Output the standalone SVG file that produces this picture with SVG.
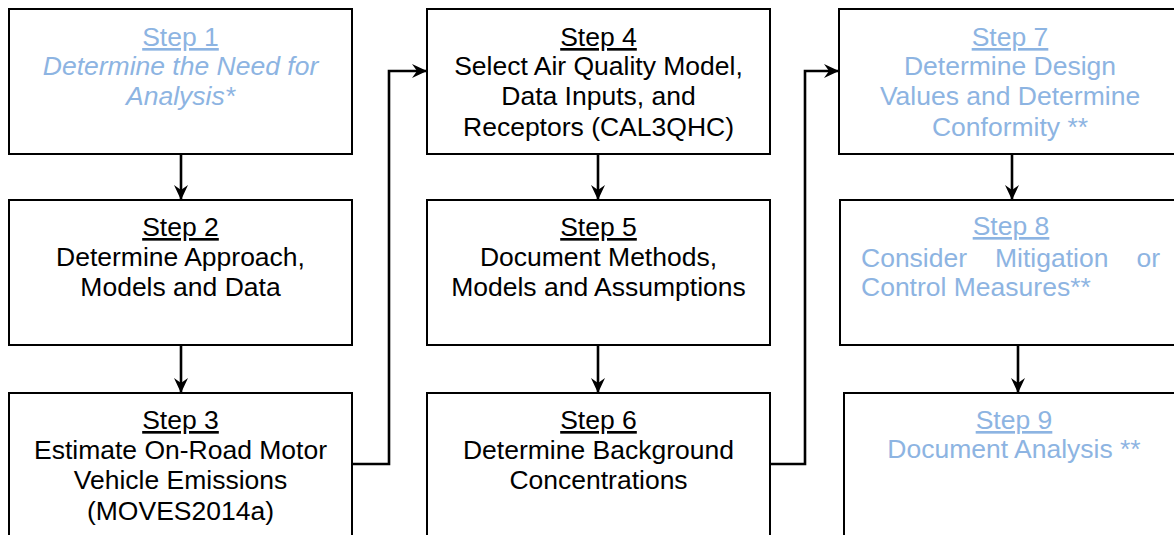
<svg xmlns="http://www.w3.org/2000/svg" width="1174" height="535" viewBox="0 0 1174 535">
<style>
.box{fill:#fff;stroke:#000;stroke-width:2}
text{font-family:"Liberation Sans",Arial,sans-serif;font-size:26.5px;text-anchor:middle}
.b{fill:#000}
.l{fill:#8db4e2}
.u{text-decoration:underline}
.i{font-style:italic}
.c{fill:none;stroke:#000;stroke-width:2.6}
</style>
<defs>
<marker id="ah" markerWidth="16" markerHeight="16" refX="15" refY="7" orient="auto" markerUnits="userSpaceOnUse" viewBox="0 0 16 14">
<path d="M0,0 L15,7 L0,14 L5,7 Z" fill="#000"/>
</marker>
</defs>
<rect width="1174" height="535" fill="#fff"/>
<g id="connectors">
<line class="c" x1="181" y1="154" x2="181" y2="200" marker-end="url(#ah)"/>
<line class="c" x1="181" y1="345" x2="181" y2="393" marker-end="url(#ah)"/>
<line class="c" x1="598" y1="154" x2="598" y2="200" marker-end="url(#ah)"/>
<line class="c" x1="598" y1="345" x2="598" y2="393" marker-end="url(#ah)"/>
<line class="c" x1="1012" y1="154" x2="1012" y2="200" marker-end="url(#ah)"/>
<line class="c" x1="1018" y1="345" x2="1018" y2="393" marker-end="url(#ah)"/>
<polyline class="c" points="352,464 389,464 389,71 427,71" marker-end="url(#ah)"/>
<polyline class="c" points="770,464 805,464 805,71 839,71" marker-end="url(#ah)"/>
</g>
<g id="step1">
<rect class="box" x="9" y="9" width="343" height="145"/>
<text class="l u" x="180.5" y="46">Step 1</text>
<text class="l i" x="180.5" y="75">Determine the Need for</text>
<text class="l i" x="180.5" y="105">Analysis*</text>
</g>
<g id="step2">
<rect class="box" x="9" y="200" width="343" height="145"/>
<text class="b u" x="180.5" y="236">Step 2</text>
<text class="b" x="180.5" y="266">Determine Approach,</text>
<text class="b" x="180.5" y="296">Models and Data</text>
</g>
<g id="step3">
<rect class="box" x="9" y="393" width="343" height="150"/>
<text class="b u" x="180.5" y="429">Step 3</text>
<text class="b" x="180.5" y="459">Estimate On-Road Motor</text>
<text class="b" x="180.5" y="489">Vehicle Emissions</text>
<text class="b" x="180.5" y="520">(MOVES2014a)</text>
</g>
<g id="step4">
<rect class="box" x="427" y="9" width="343" height="145"/>
<text class="b u" x="598.5" y="46">Step 4</text>
<text class="b" x="598.5" y="75">Select Air Quality Model,</text>
<text class="b" x="598.5" y="105">Data Inputs, and</text>
<text class="b" x="598.5" y="136">Receptors (CAL3QHC)</text>
</g>
<g id="step5">
<rect class="box" x="427" y="200" width="343" height="145"/>
<text class="b u" x="598.5" y="236">Step 5</text>
<text class="b" x="598.5" y="266">Document Methods,</text>
<text class="b" x="598.5" y="296">Models and Assumptions</text>
</g>
<g id="step6">
<rect class="box" x="427" y="393" width="343" height="150"/>
<text class="b u" x="598.5" y="429">Step 6</text>
<text class="b" x="598.5" y="459">Determine Background</text>
<text class="b" x="598.5" y="489">Concentrations</text>
</g>
<g id="step7">
<rect class="box" x="839" y="9" width="343" height="145"/>
<text class="l u" x="1010" y="46">Step 7</text>
<text class="l" x="1010" y="75">Determine Design</text>
<text class="l" x="1010" y="105">Values and Determine</text>
<text class="l" x="1010" y="136">Conformity **</text>
</g>
<g id="step8">
<rect class="box" x="840" y="200" width="343" height="145"/>
<text class="l u" x="1011" y="235">Step 8</text>
<text class="l" x="861" y="267" style="text-anchor:start">Consider</text>
<text class="l" x="995" y="267" style="text-anchor:start">Mitigation</text>
<text class="l" x="1160" y="267" style="text-anchor:end">or</text>
<text class="l" x="861" y="296" style="text-anchor:start">Control Measures**</text>
</g>
<g id="step9">
<rect class="box" x="844" y="393" width="343" height="150"/>
<text class="l u" x="1014" y="429">Step 9</text>
<text class="l" x="1014" y="458">Document Analysis **</text>
</g>
</svg>
